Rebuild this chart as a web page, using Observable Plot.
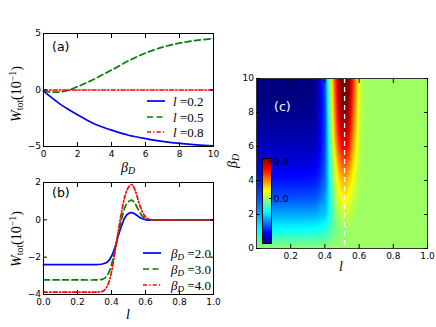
<!DOCTYPE html>
<html><head><meta charset="utf-8">
<script src="https://cdn.jsdelivr.net/npm/d3@7"></script>
<script src="https://cdn.jsdelivr.net/npm/@observablehq/plot@0.6"></script>
<style>
body{margin:0;background:#fff;}
#wrap{position:relative;width:436px;height:327px;overflow:hidden;background:#fff;}
.p{position:absolute;}
.lab{position:absolute;font-family:"Liberation Serif","DejaVu Serif",serif;font-size:14px;white-space:nowrap;line-height:1;color:#000;}
.lab sub{font-size:70%;vertical-align:-0.25em;line-height:0;}
.lab sup{font-size:70%;vertical-align:0.55em;line-height:0;}
.rot{transform:translate(-50%,-50%) rotate(-90deg);}
.ctr{transform:translate(-50%,-50%);}
.pl{position:absolute;font-family:"DejaVu Sans",sans-serif;font-size:12.5px;line-height:1;transform:translateY(-50%);}
.leg{position:absolute;font-family:"Liberation Serif","DejaVu Serif",serif;font-size:13px;white-space:nowrap;line-height:1;transform:translateY(-50%);}
.leg sub{font-size:70%;vertical-align:-0.3em;line-height:0;}
</style></head>
<body><div id="wrap"></div>
<script>
// ---------- data ----------
// panel (a): W_tot (10^-1) vs beta_D
const betaA = [0, 0.5, 1, 1.5, 2, 2.5, 3, 3.5, 4, 5, 6, 7, 8, 9, 10];
const wA_l02 = [-0.1, -0.7, -1.27, -1.75, -2.2, -2.62, -3.0, -3.3, -3.55, -4.0, -4.3, -4.55, -4.72, -4.85, -4.94];
const wA_l05 = [-0.1, -0.18, -0.18, 0.0, 0.3, 0.62, 0.97, 1.37, 1.76, 2.58, 3.27, 3.79, 4.15, 4.39, 4.55];
const wA_l08 = [0, 0, 0, 0, 0, 0, 0, 0, 0, 0, 0, 0, 0, 0, 0];
const seriesA = ["l=0.2", "l=0.5", "l=0.8"];
const xTicksA = [0, 2, 4, 6, 8, 10];
const yTicksA = [-5, 0, 5];

// panel (b): W_tot (10^-1) vs l
const lB = [0, 0.1, 0.2, 0.3, 0.34, 0.36, 0.38, 0.40, 0.42, 0.44, 0.46, 0.48, 0.50, 0.52, 0.54, 0.56, 0.58, 0.60, 0.62, 0.65, 0.7, 0.8, 0.9, 1.0];
const wB_b2 = [-2.4, -2.4, -2.4, -2.4, -2.38, -2.33, -2.22, -1.95, -1.5, -0.85, -0.3, 0.14, 0.34, 0.39, 0.3, 0.17, 0.07, 0.01, -0.02, -0.01, 0, 0, 0, 0];
const wB_b3 = [-3.22, -3.22, -3.22, -3.22, -3.2, -3.12, -2.9, -2.4, -1.6, -0.75, 0.05, 0.7, 0.98, 1.05, 0.85, 0.5, 0.22, 0.08, 0.02, 0, 0, 0, 0, 0];
const wB_b4 = [-3.87, -3.87, -3.87, -3.87, -3.85, -3.75, -3.45, -2.8, -1.75, -0.6, 0.45, 1.3, 1.75, 1.89, 1.55, 0.96, 0.45, 0.16, 0.04, 0, 0, 0, 0, 0];
const seriesB = ["βD=2.0", "βD=3.0", "βD=4.0"];
const xTicksB = [0, 0.2, 0.4, 0.6, 0.8, 1.0];
const yTicksB = [-4, -2, 0, 2];

// panel (c): W_tot map over (l, beta_D)
const lC = [0, 0.3, 0.35, 0.4, 0.42, 0.44, 0.46, 0.48, 0.5, 0.52, 0.54, 0.56, 0.58, 0.6, 0.62, 0.65, 1];
const betaC = [0, 1, 2, 3, 4, 5, 6, 7, 8, 9, 10];
const wC = [
  [-0.01, -0.01, -0.01, -0.01, -0.01, 0, 0, 0, 0, 0, 0, 0, 0, 0, 0, 0, 0],
  [-0.127, -0.127, -0.12, -0.1, -0.08, -0.06, -0.04, -0.025, -0.018, -0.01, -0.005, 0, 0, 0, 0, 0, 0],
  [-0.22, -0.22, -0.215, -0.19, -0.15, -0.085, -0.03, 0.014, 0.034, 0.039, 0.03, 0.017, 0.007, 0.001, -0.002, 0, 0],
  [-0.30, -0.30, -0.295, -0.24, -0.16, -0.075, 0.005, 0.06, 0.09, 0.098, 0.08, 0.05, 0.022, 0.008, 0.002, 0, 0],
  [-0.355, -0.355, -0.35, -0.28, -0.175, -0.06, 0.035, 0.11, 0.15, 0.16, 0.135, 0.085, 0.04, 0.014, 0.004, 0, 0],
  [-0.40, -0.40, -0.39, -0.30, -0.17, -0.035, 0.08, 0.18, 0.235, 0.25, 0.21, 0.14, 0.07, 0.024, 0.006, 0, 0],
  [-0.43, -0.43, -0.42, -0.31, -0.16, 0.0, 0.14, 0.25, 0.315, 0.335, 0.29, 0.195, 0.1, 0.035, 0.008, 0, 0],
  [-0.455, -0.455, -0.44, -0.315, -0.15, 0.03, 0.19, 0.31, 0.375, 0.39, 0.345, 0.24, 0.125, 0.045, 0.01, 0, 0],
  [-0.472, -0.472, -0.455, -0.315, -0.135, 0.06, 0.22, 0.345, 0.415, 0.43, 0.385, 0.275, 0.15, 0.05, 0.012, 0, 0],
  [-0.485, -0.485, -0.465, -0.31, -0.115, 0.08, 0.245, 0.37, 0.439, 0.45, 0.41, 0.3, 0.17, 0.056, 0.013, 0, 0],
  [-0.494, -0.494, -0.47, -0.305, -0.1, 0.1, 0.265, 0.385, 0.455, 0.465, 0.425, 0.32, 0.185, 0.06, 0.014, 0, 0]
];
const lMarked = [0.515];
const colorDomain = [-0.486, 0.432];
const cbTicks = [0, 0.4];
const xTicksC = [0.2, 0.4, 0.6, 0.8, 1.0];
const yTicksC = [0, 2, 4, 6, 8, 10];

// ---------- helpers ----------
const jet = t => {
  const c = v => Math.max(0, Math.min(1, v));
  const r = c(1.5 - Math.abs(4 * t - 3)), g = c(1.5 - Math.abs(4 * t - 2)), b = c(1.5 - Math.abs(4 * t - 1));
  return `rgb(${Math.round(r * 255)},${Math.round(g * 255)},${Math.round(b * 255)})`;
};
const fmtInt = d => (d < 0 ? "\u2212" + Math.abs(d) : String(d));
const fmt1 = d => (d < 0 ? "\u2212" : "") + Math.abs(d).toFixed(1);
const baseStyle = {fontFamily: "DejaVu Sans, sans-serif", fontSize: "9px", color: "black", background: "transparent", overflow: "visible"};
const colors = ["#0000ff", "#008000", "#ff0000"];
const dashes = [null, "6,3.5", "4,2.2,1.3,2.2"];
function axes(xt, yt, xf, yf) {
  return [
    Plot.axisX({anchor: "bottom", ticks: xt, tickFormat: xf, tickSize: -4, tickPadding: 8, label: null}),
    Plot.axisX({anchor: "top", ticks: xt, tickFormat: () => "", tickSize: -4, tickPadding: 0, label: null}),
    Plot.axisY({anchor: "left", ticks: yt, tickFormat: yf, tickSize: -4, tickPadding: 6.5, label: null}),
    Plot.axisY({anchor: "right", ticks: yt, tickFormat: () => "", tickSize: -4, tickPadding: 0, label: null})
  ];
}
function place(el, left, top) { el.classList.add("p"); el.style.left = left + "px"; el.style.top = top + "px"; wrap.appendChild(el); }
const wrap = document.getElementById("wrap");

// ---------- panel (a) ----------
const rowsA = [];
[wA_l02, wA_l05, wA_l08].forEach((arr, k) => betaA.forEach((b, i) => rowsA.push({b, w: arr[i], s: seriesA[k]})));
const pa = Plot.plot({
  width: 220, height: 180, marginLeft: 43, marginRight: 7, marginTop: 33, marginBottom: 34,
  style: baseStyle,
  x: {domain: [0, 10]}, y: {domain: [-5, 5]},
  marks: [
    ...seriesA.map((s, k) => Plot.line(rowsA.filter(r => r.s === s), {x: "b", y: "w", stroke: colors[k], strokeWidth: 1.7, strokeDasharray: dashes[k], curve: "catmull-rom"})),
    Plot.frame({stroke: "black"}),
    ...axes(xTicksA, yTicksA, fmtInt, fmtInt)
  ]
});
place(pa, 0, 0);

// ---------- panel (b) ----------
const rowsB = [];
[wB_b2, wB_b3, wB_b4].forEach((arr, k) => lB.forEach((l, i) => rowsB.push({l, w: arr[i], s: seriesB[k]})));
const pb = Plot.plot({
  width: 220, height: 162, marginLeft: 43, marginRight: 7, marginTop: 17, marginBottom: 33,
  style: baseStyle,
  x: {domain: [0, 1]}, y: {domain: [-4, 2]},
  marks: [
    ...seriesB.map((s, k) => Plot.line(rowsB.filter(r => r.s === s), {x: "l", y: "w", stroke: colors[k], strokeWidth: 1.7, strokeDasharray: dashes[k], curve: "catmull-rom"})),
    Plot.frame({stroke: "black"}),
    ...axes(xTicksB, yTicksB, fmt1, fmtInt)
  ]
});
place(pb, 0, 165);

// ---------- panel (c) ----------
const rowsC = [];
betaC.forEach((b, j) => lC.forEach((l, i) => rowsC.push({l, b, v: wC[j][i]})));
const colorScale = {type: "linear", domain: colorDomain, interpolate: jet, clamp: true};
const pc = Plot.plot({
  width: 216, height: 230, marginLeft: 36, marginRight: 9, marginTop: 28, marginBottom: 32,
  style: baseStyle,
  x: {domain: [0, 1]}, y: {domain: [0, 10]},
  color: colorScale,
  marks: [
    Plot.raster(rowsC, {x: "l", y: "b", fill: "v", interpolate: "barycentric", x1: 0, x2: 1, y1: 0, y2: 10}),
    Plot.ruleX(lMarked, {stroke: "white", strokeWidth: 1.3, strokeDasharray: "5,4"}),
    Plot.frame({stroke: "#333"}),
    ...axes(xTicksC, yTicksC, fmt1, fmtInt)
  ]
});
place(pc, 220, 50);

// colorbar inset
const cb = Plot.plot({
  width: 40, height: 90, marginLeft: 1, marginRight: 30, marginTop: 1, marginBottom: 4,
  style: baseStyle,
  x: {domain: [0, 1], axis: null}, y: {domain: colorDomain},
  color: colorScale,
  marks: [
    Plot.raster({fill: (x, y) => y, x1: 0, x2: 1, y1: colorDomain[0], y2: colorDomain[1]}),
    Plot.frame({stroke: "black"}),
    Plot.axisY({anchor: "right", ticks: cbTicks, tickFormat: fmt1, tickSize: -3, tickPadding: 5, label: null, fontSize: 9.5})
  ]
});
place(cb, 261, 157);

// ---------- text overlays ----------
function lab(html, x, y, cls) { const d = document.createElement("div"); d.className = cls; d.innerHTML = html; d.style.left = x + "px"; d.style.top = y + "px"; wrap.appendChild(d); return d; }
const wLabel = "<i>W</i><sub>tot</sub>(10<sup>\u22121</sup>)";
const bLabel = "<i>\u03b2</i><sub><i>D</i></sub>";
lab(wLabel, 17, 94, "lab rot");
lab(wLabel, 17, 239, "lab rot");
lab(bLabel, 128, 168, "lab ctr");
lab("<i>l</i>", 128, 315, "lab ctr");
lab("<i>l</i>", 341, 267, "lab ctr");
lab(bLabel, 233, 161, "lab rot");
lab("(a)", 52, 47, "pl");
lab("(b)", 52, 193, "pl");
const pcL = lab("(c)", 274, 107, "pl"); pcL.style.color = "white";

// legends
const legA = ["<i>l</i> =0.2", "<i>l</i> =0.5", "<i>l</i> =0.8"];
const legB = ["<i>\u03b2</i><sub><i>D</i></sub> =2.0", "<i>\u03b2</i><sub><i>D</i></sub> =3.0", "<i>\u03b2</i><sub><i>D</i></sub> =4.0"];
const ns = "http://www.w3.org/2000/svg";
const ov = document.createElementNS(ns, "svg");
ov.setAttribute("width", 436); ov.setAttribute("height", 327);
ov.style.position = "absolute"; ov.style.left = "0"; ov.style.top = "0"; ov.style.pointerEvents = "none";
wrap.appendChild(ov);
function sample(x1, x2, y, k) {
  const ln = document.createElementNS(ns, "line");
  ln.setAttribute("x1", x1); ln.setAttribute("x2", x2); ln.setAttribute("y1", y); ln.setAttribute("y2", y);
  ln.setAttribute("stroke", colors[k]); ln.setAttribute("stroke-width", 1.7);
  if (dashes[k]) ln.setAttribute("stroke-dasharray", dashes[k]);
  ov.appendChild(ln);
}
[101, 117, 132].forEach((y, k) => { sample(147, 165, y, k); lab(legA[k], 173, y, "leg"); });
[253, 269, 285].forEach((y, k) => { sample(143, 161, y, k); lab(legB[k], 171, y, "leg"); });
</script>
</body></html>
